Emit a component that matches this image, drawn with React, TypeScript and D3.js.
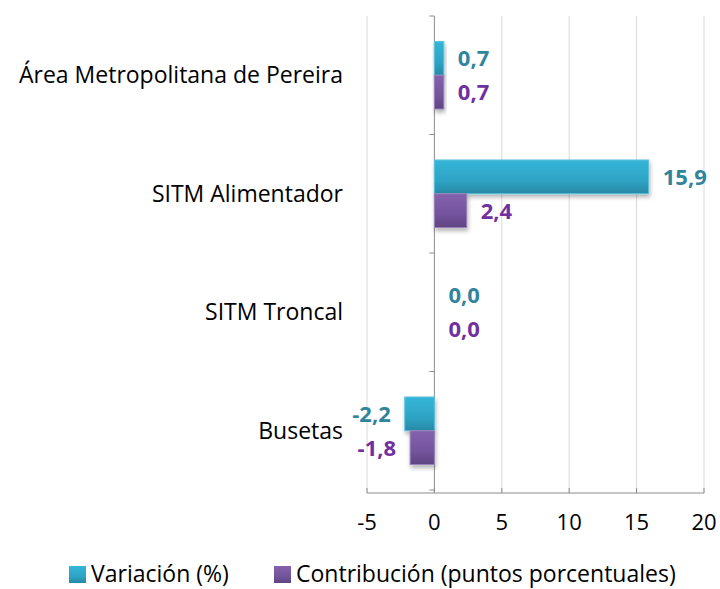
import React from "react";
import * as d3 from "d3";

const categories = ["Área Metropolitana de Pereira", "SITM Alimentador", "SITM Troncal", "Busetas"];
const variacion = [0.7, 15.9, 0.0, -2.2];
const contribucion = [0.7, 2.4, 0.0, -1.8];
const xTicks = [-5, 0, 5, 10, 15, 20];
const seriesNames = ["Variación (%)", "Contribución (puntos porcentuales)"];

const W = 720, H = 589;
const FONT = "'Open Sans', sans-serif";

export default function App() {
  const x = d3.scaleLinear().domain([-5, 20]).range([367, 704]);
  const y = d3.scaleBand<string>().domain(categories).range([16, 490]).paddingInner(0.43).paddingOuter(0.215);
  const bw = y.bandwidth() / 2;
  const fmt = (v: number) => v.toFixed(1).replace(".", ",");
  const series = [
    { vals: variacion, grad: "gC", stroke: "#5fc3dd", text: "#31849B" },
    { vals: contribucion, grad: "gP", stroke: "#9a83bb", text: "#7030A0" },
  ];
  const boundaries = d3.range(categories.length + 1).map((i) => 16 + (474 / categories.length) * i);
  return (
    <div style={{ position: "absolute", left: 0, top: 0 }}>
      <svg width={W} height={H} style={{ display: "block", background: "#fff" }}>
        <defs>
          <linearGradient id="gC" x1="0" y1="0" x2="0" y2="1">
            <stop offset="0" stopColor="#35b5d8" />
            <stop offset="0.6" stopColor="#2ea4c5" />
            <stop offset="1" stopColor="#2789a6" />
          </linearGradient>
          <linearGradient id="gP" x1="0" y1="0" x2="0" y2="1">
            <stop offset="0" stopColor="#8462ae" />
            <stop offset="0.6" stopColor="#74549c" />
            <stop offset="1" stopColor="#5f4483" />
          </linearGradient>
          <filter id="sh" x="-20%" y="-20%" width="150%" height="160%">
            <feDropShadow dx="1" dy="3" stdDeviation="2" floodColor="#000" floodOpacity="0.3" />
          </filter>
        </defs>
        {xTicks.filter((t) => t !== 0).map((t) => (
          <line key={t} x1={x(t)} x2={x(t)} y1={16} y2={493} stroke="#d9d9d9" strokeWidth={1} />
        ))}
        <line x1={x(0)} x2={x(0)} y1={16} y2={493} stroke="#8c8c8c" strokeWidth={1} />
        {boundaries.map((b, i) => (
          <line key={i} x1={x(0) - 5} x2={x(0)} y1={b} y2={b} stroke="#8c8c8c" />
        ))}
        <line x1={x(-5)} x2={x(20)} y1={493} y2={493} stroke="#8c8c8c" />
        {xTicks.map((t) => (
          <g key={t}>
            <line x1={x(t)} x2={x(t)} y1={488} y2={493} stroke="#8c8c8c" />
            <text x={x(t)} y={530} textAnchor="middle" fontFamily={FONT} fontSize={22} fill="#000">{t}</text>
          </g>
        ))}
        {categories.map((c, ci) => (
          <g key={c}>
            <text x={343} y={(y(c) as number) + y.bandwidth() / 2 + 8} textAnchor="end" fontFamily={FONT} fontSize={23} fill="#000">{c}</text>
            {series.map((s, si) => {
              const v = s.vals[ci];
              const y0 = (y(c) as number) + si * bw;
              const x0 = Math.min(x(0), x(v));
              const w = Math.abs(x(v) - x(0));
              const pos = v >= 0;
              return (
                <g key={si}>
                  {w > 0.5 && (
                    <rect x={x0} y={y0} width={w} height={bw} fill={`url(#${s.grad})`} stroke={s.stroke} strokeWidth={1} filter="url(#sh)" />
                  )}
                  <text
                    x={pos ? x(v) + 14 : x(v) - 14}
                    y={y0 + bw / 2 + 8}
                    textAnchor={pos ? "start" : "end"}
                    fontFamily={FONT}
                    fontWeight="bold"
                    fontSize={22}
                    fill={s.text}
                  >{fmt(v)}</text>
                </g>
              );
            })}
          </g>
        ))}
        <rect x={69} y={566} width={17} height={17} fill="url(#gC)" />
        <text x={91} y={582} fontFamily={FONT} fontSize={23} fill="#000">{seriesNames[0]}</text>
        <rect x={274} y={566} width={17} height={17} fill="url(#gP)" />
        <text x={296} y={582} fontFamily={FONT} fontSize={23} fill="#000">{seriesNames[1]}</text>
      </svg>
    </div>
  );
}
